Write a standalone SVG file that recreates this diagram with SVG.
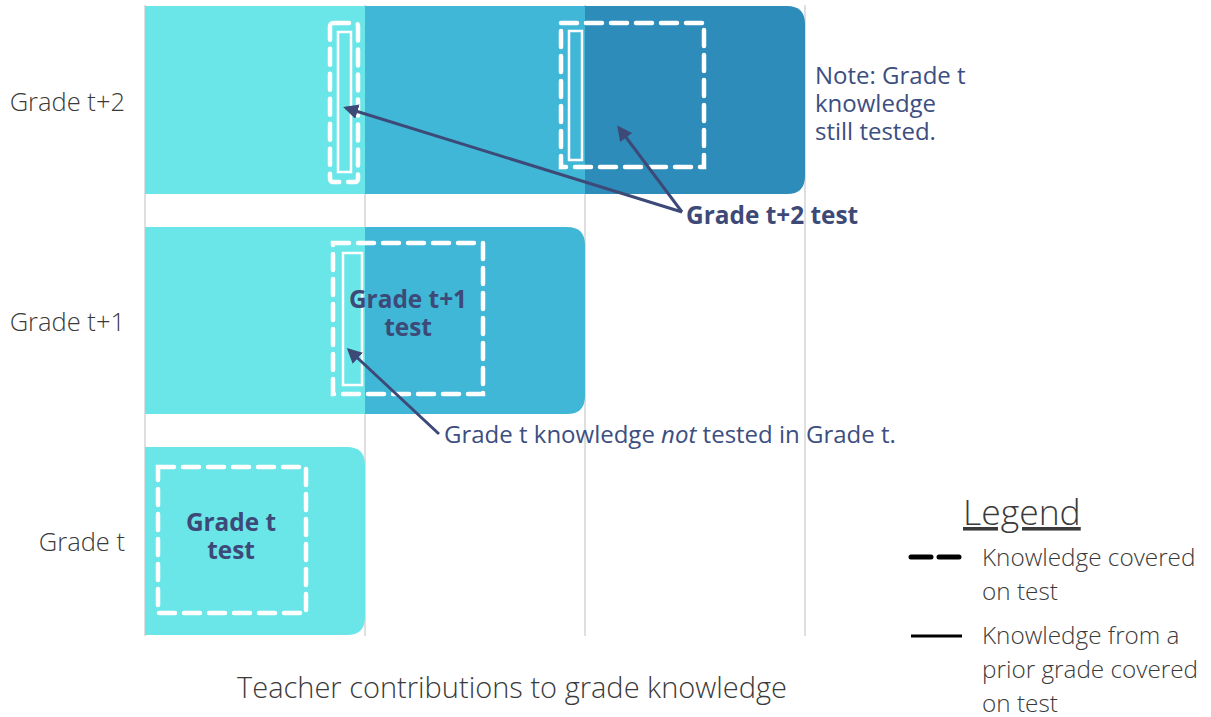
<svg xmlns="http://www.w3.org/2000/svg" width="1211" height="717" viewBox="0 0 1211 717">
<defs>
<style>
.grid{stroke:#d4d4d4;stroke-width:1.5}
.c1{fill:#6be6e8}
.c2{fill:#40b7d6}
.c3{fill:#2d8cba}
.dash{fill:none;stroke:#fff;stroke-width:4.5;stroke-dasharray:16 9;stroke-linecap:round}
.solid{fill:none;stroke:#fff;stroke-width:2.5}
.lab{font-family:"Open Sans",sans-serif;font-size:25.5px;fill:#3a3a3a;font-weight:300}
.axis{font-family:"Open Sans",sans-serif;font-size:29px;fill:#3a3a3a;font-weight:300}
.note{font-family:"Open Sans",sans-serif;font-size:24px;fill:#3d4e80}
.bold{font-family:"Open Sans",sans-serif;font-size:24.4px;font-weight:bold;fill:#3d4a78}
.arr{stroke:#3d4a78;stroke-width:3;fill:none;marker-end:url(#ah)}
.leg{font-family:"Open Sans",sans-serif;font-size:24.3px;fill:#3a3a3a;font-weight:300}
.legt{font-family:"Open Sans",sans-serif;font-size:35.5px;fill:#3a3a3a;font-weight:300;text-decoration:underline}
</style>
<marker id="ah" viewBox="0 0 10 10" refX="8" refY="5" markerWidth="5" markerHeight="5" orient="auto" markerUnits="strokeWidth">
<path d="M0,0 L10,5 L0,10 z" fill="#3d4a78"/>
</marker>
</defs>
<rect width="1211" height="717" fill="#fff"/>
<g id="grid">
<line class="grid" x1="145" y1="5" x2="145" y2="636"/>
<line class="grid" x1="365" y1="5" x2="365" y2="636"/>
<line class="grid" x1="585" y1="5" x2="585" y2="636"/>
<line class="grid" x1="805" y1="5" x2="805" y2="636"/>
</g>
<g id="row-t2">
<path class="c3" d="M585,6 H787 Q805,6 805,24 V176 Q805,194 787,194 H585 Z"/>
<rect class="c2" x="365" y="6" width="220" height="188"/>
<rect class="c1" x="145" y="6" width="220" height="188"/>
<rect class="dash" x="330" y="23" width="28" height="159" rx="3"/>
<rect class="solid" x="338" y="32" width="13" height="140"/>
<rect class="dash" x="561" y="23" width="143" height="144"/>
<rect class="solid" x="569" y="31" width="13" height="129"/>
</g>
<g id="row-t1">
<path class="c2" d="M365,227 H567 Q585,227 585,245 V396 Q585,414 567,414 H365 Z"/>
<rect class="c1" x="145" y="227" width="220" height="187"/>
<rect class="dash" x="333" y="243" width="150" height="151"/>
<rect class="solid" x="343" y="253" width="19" height="132"/>
<text class="bold" x="408" y="308" text-anchor="middle">Grade t+1</text>
<text class="bold" x="408" y="336" text-anchor="middle">test</text>
</g>
<g id="row-t">
<path class="c1" d="M145,447 H347 Q365,447 365,465 V617 Q365,635 347,635 H145 Z"/>
<rect class="dash" x="158" y="467" width="148" height="146"/>
<text class="bold" x="231" y="531" text-anchor="middle">Grade t</text>
<text class="bold" x="231" y="559" text-anchor="middle">test</text>
</g>
<g id="labels">
<text class="lab" x="125" y="111" text-anchor="end">Grade t+2</text>
<text class="lab" x="125" y="331" text-anchor="end">Grade t+1</text>
<text class="lab" x="125" y="551" text-anchor="end">Grade t</text>
<text class="axis" x="512" y="698" text-anchor="middle">Teacher contributions to grade knowledge</text>
</g>
<g id="note">
<text class="note" x="815" y="84">Note: Grade t</text>
<text class="note" x="815" y="112">knowledge</text>
<text class="note" x="815" y="140">still tested.</text>
</g>
<g id="t2-test">
<text class="bold" x="686" y="224">Grade t+2 test</text>
</g>
<g id="not-tested">
<text class="note" x="444" y="443">Grade t knowledge <tspan font-style="italic">not</tspan> tested in Grade t.</text>
</g>
<g id="connectors">
<line class="arr" x1="682" y1="212" x2="346" y2="108"/>
<line class="arr" x1="682" y1="212" x2="619" y2="128"/>
<line class="arr" x1="439" y1="434" x2="349" y2="350"/>
</g>
<g id="legend">
<text class="legt" x="963" y="525">Legend</text>
<line x1="911" y1="557" x2="962" y2="557" stroke="#000" stroke-width="5" stroke-dasharray="20 8" stroke-linecap="round"/>
<text class="leg" x="982" y="566">Knowledge covered</text>
<text class="leg" x="982" y="600">on test</text>
<line x1="911" y1="636" x2="962" y2="636" stroke="#000" stroke-width="3"/>
<text class="leg" x="982" y="644">Knowledge from a</text>
<text class="leg" x="982" y="678">prior grade covered</text>
<text class="leg" x="982" y="712">on test</text>
</g>
</svg>
